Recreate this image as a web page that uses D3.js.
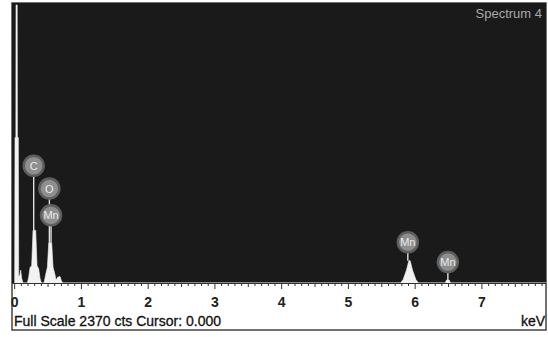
<!DOCTYPE html>
<html>
<head>
<meta charset="utf-8">
<script src="https://cdn.jsdelivr.net/npm/d3@7"></script>
<style>
  body { margin: 0; background: #fff; }
  text { font-family: "Liberation Sans", Arial, sans-serif; }
</style>
</head>
<body>
<div id="chart"></div>
<script>
// spectrum (keV, counts)
var energy = [0.0, 0.005, 0.018, 0.02, 0.038, 0.041, 0.055, 0.06, 0.075, 0.09, 0.105, 0.125,
  0.19, 0.21, 0.23, 0.255, 0.275, 0.315, 0.335, 0.36, 0.38, 0.40,
  0.44, 0.46, 0.49, 0.51, 0.555, 0.575, 0.6, 0.62, 0.645, 0.68, 0.70, 0.72,
  5.78, 5.82, 5.87, 5.905, 5.925, 5.96, 6.01, 6.05,
  6.45, 6.47, 6.51, 6.53, 7.96];
var counts = [0, 1240, 1240, 2370, 2370, 1240, 1240, 60, 60, 110, 40, 0,
  0, 50, 130, 150, 450, 450, 150, 120, 40, 0,
  0, 60, 135, 340, 340, 135, 80, 25, 50, 55, 20, 0,
  0, 30, 110, 190, 190, 110, 30, 0,
  0, 25, 25, 0, 0];

// element markers
var labelNames = ["C", "O", "Mn", "Mn", "Mn"];
var labelKeV = [0.285, 0.52, 0.545, 5.89, 6.49];
var labelCts = [1000, 805, 578, 348, 178];

var tickValues = [0, 1, 2, 3, 4, 5, 6, 7];
var fullScale = 2370;

var W = 548, H = 337;
var pLeft = 12, pRight = 546, pTop = 3, pBase = 283, pBottom = 330;

var svg = d3.select("#chart").append("svg")
  .attr("width", W)
  .attr("height", H);

var x = d3.scaleLinear().domain([-0.04, 7.96]).range([pLeft, pRight]);
var y = d3.scaleLinear().domain([0, fullScale]).range([pBase, pTop + 2]);

// frame + dark plot area
svg.append("rect")
  .attr("x", pLeft).attr("y", pTop)
  .attr("width", pRight - pLeft).attr("height", pBottom - pTop)
  .attr("fill", "#fff")
  .attr("stroke", "#444")
  .attr("stroke-width", 1.5);

svg.append("rect")
  .attr("x", pLeft).attr("y", pTop)
  .attr("width", pRight - pLeft).attr("height", pBase - pTop)
  .attr("fill", "#1a1a1a");

svg.append("clipPath").attr("id", "clip")
  .append("rect")
  .attr("x", pLeft + 1).attr("y", pTop)
  .attr("width", pRight - pLeft - 1).attr("height", pBase - pTop);

var pts = energy.map(function(e, i) { return [e, counts[i]]; });

var area = d3.area()
  .x(function(d) { return x(d[0]); })
  .y0(pBase)
  .y1(function(d) { return y(d[1]); });

svg.append("path")
  .datum(pts)
  .attr("clip-path", "url(#clip)")
  .attr("fill", "#f2f2f2")
  .attr("stroke", "#f2f2f2")
  .attr("stroke-width", 0.6)
  .attr("d", area);

// marker leader lines down to the peak top
function peakTop(e) {
  var m = 0;
  pts.forEach(function(p) { if (Math.abs(p[0] - e) < 0.05) m = Math.max(m, p[1]); });
  return m;
}

svg.selectAll(".lead")
  .data(labelKeV)
  .enter().append("line")
  .attr("x1", function(d) { return x(d); })
  .attr("x2", function(d) { return x(d); })
  .attr("y1", function(d, i) { return y(labelCts[i]); })
  .attr("y2", function(d) { return y(peakTop(d)); })
  .attr("stroke", "#e0e0e0")
  .attr("stroke-width", 1.4);

var lab = svg.selectAll(".lab")
  .data(labelNames)
  .enter().append("g")
  .attr("transform", function(d, i) {
    return "translate(" + x(labelKeV[i]) + "," + y(labelCts[i]) + ")";
  });

lab.append("circle")
  .attr("r", 10)
  .attr("fill", "#8e8e8e")
  .attr("stroke", "#5e5e5e")
  .attr("stroke-width", 2.5);

lab.append("text")
  .attr("text-anchor", "middle")
  .attr("dy", "0.36em")
  .style("font-size", "11px")
  .attr("fill", "#ececec")
  .text(function(d) { return d; });

// ticks along the bottom edge
var minor = d3.range(0, 80).map(function(i) { return i / 10; });
svg.selectAll(".tk")
  .data(minor)
  .enter().append("line")
  .attr("x1", function(d) { return x(d); })
  .attr("x2", function(d) { return x(d); })
  .attr("y1", pBase)
  .attr("y2", function(d, i) { return pBase + (i % 10 == 0 ? 6 : (i % 5 == 0 ? 4 : 3)); })
  .attr("stroke", "#333")
  .attr("stroke-width", 1);

svg.append("line")
  .attr("x1", pLeft).attr("x2", pRight)
  .attr("y1", pBase + 0.5).attr("y2", pBase + 0.5)
  .attr("stroke", "#333");

svg.selectAll(".tl")
  .data(tickValues)
  .enter().append("text")
  .attr("x", function(d) { return x(d); })
  .attr("y", 307)
  .attr("text-anchor", "middle")
  .style("font-size", "14px")
  .style("font-weight", "bold")
  .attr("fill", "#222")
  .text(function(d) { return d; });

svg.append("text")
  .attr("x", pLeft + 2)
  .attr("y", 326)
  .style("font-size", "14px")
  .attr("fill", "#111")
  .attr("stroke", "#111")
  .attr("stroke-width", 0.3)
  .text("Full Scale 2370 cts Cursor: 0.000");

svg.append("text")
  .attr("x", pRight - 1)
  .attr("y", 326)
  .attr("text-anchor", "end")
  .style("font-size", "14px")
  .attr("fill", "#111")
  .attr("stroke", "#111")
  .attr("stroke-width", 0.3)
  .text("keV");

svg.append("text")
  .attr("x", pRight - 4)
  .attr("y", 18)
  .attr("text-anchor", "end")
  .style("font-size", "13px")
  .attr("fill", "#a8a8a8")
  .text("Spectrum 4");
</script>
</body>
</html>
